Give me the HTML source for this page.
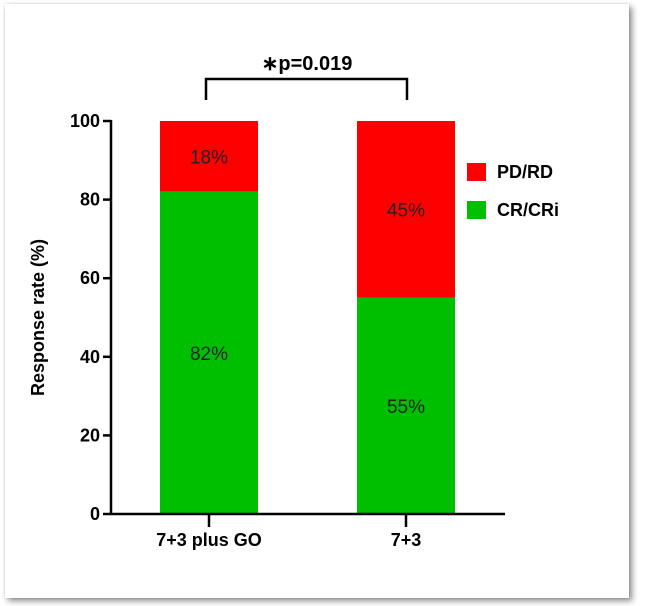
<!DOCTYPE html>
<html><head><style>
body{margin:0;background:#fff;width:647px;height:606px;overflow:hidden;font-family:"Liberation Sans",Arial,sans-serif}
#card{position:absolute;left:5px;top:4px;width:624px;height:594px;background:#fff;box-shadow:3px 3px 6px rgba(0,0,0,0.45),0 0 2px rgba(0,0,0,0.15)}
svg{position:absolute;left:0;top:0}
</style></head><body>
<div id="card"></div>
<svg id="chart" width="647" height="606"></svg>
<script>
const categories=["7+3 plus GO","7+3"];
const crValues=[82,55];
const pdValues=[18,45];
const yTicks=[0,20,40,60,80,100];
const svg=document.getElementById('chart');
const NS='http://www.w3.org/2000/svg';
function mk(tag,attrs,name,text){const e=document.createElementNS(NS,tag);for(const k in attrs)e.setAttribute(k,attrs[k]);


if(text!==undefined)e.textContent=text;svg.appendChild(e);return e;}
const y0=514,y100=121,xL=111,xR=505;
const yS=v=>y0-(y0-y100)*v/100;
const centers=[209,406],bw=98;
const xS=i=>centers[i];
categories.forEach((c,i)=>{
 const x=xS(i)-bw/2;
 mk('rect',{x:x,y:yS(crValues[i]),width:bw,height:y0-yS(crValues[i]),fill:'#00bf00'},'bar-cr-'+i);
 mk('rect',{x:x,y:yS(crValues[i]+pdValues[i]),width:bw,height:yS(crValues[i])-yS(crValues[i]+pdValues[i]),fill:'#ff0000'},'bar-pd-'+i);
 mk('text',{x:xS(i),y:(yS(crValues[i])+y0)/2+7,'text-anchor':'middle','font-size':'19',fill:'#222'},'label-cr-'+i,crValues[i]+'%');
 mk('text',{x:xS(i),y:(yS(crValues[i])+yS(crValues[i]+pdValues[i]))/2+7,'text-anchor':'middle','font-size':'19',fill:'#222'},'label-pd-'+i,pdValues[i]+'%');
 mk('line',{x1:xS(i),x2:xS(i),y1:y0,y2:y0+13,stroke:'#000','stroke-width':2.5},'x-tick');
 mk('text',{x:xS(i),y:y0+32,'text-anchor':'middle','font-size':'18','font-weight':'bold'},'x-tick-label',c);
});
mk('line',{x1:xL,x2:xL,y1:y100-1,y2:y0+1,stroke:'#000','stroke-width':2.5},'y-axis');
mk('line',{x1:xL,x2:xR,y1:y0,y2:y0,stroke:'#000','stroke-width':2.5},'x-axis');
yTicks.forEach(t=>{
 mk('line',{x1:xL-8,x2:xL,y1:yS(t),y2:yS(t),stroke:'#000','stroke-width':2.5},'y-tick');
 mk('text',{x:xL-11,y:yS(t)+6,'text-anchor':'end','font-size':'18','font-weight':'bold'},'y-tick-label',t);
});
mk('text',{x:44,y:(y0+y100)/2,'text-anchor':'middle','font-size':'18','font-weight':'bold',transform:'rotate(-90 44 '+((y0+y100)/2)+')'},'y-axis-title','Response rate (%)');
mk('path',{d:'M206 100 V79 H407 V100',fill:'none',stroke:'#000','stroke-width':2.5},'significance-bracket');
mk('text',{x:307,y:70,'text-anchor':'middle','font-size':'20','font-weight':'bold'},'p-value-label','∗p=0.019');
mk('rect',{x:467,y:163,width:19,height:18,fill:'#ff0000'},'legend-swatch-pd');
mk('text',{x:497,y:178,'font-size':'18','font-weight':'bold'},'legend-label-pd','PD/RD');
mk('rect',{x:467,y:201,width:19,height:18,fill:'#00bf00'},'legend-swatch-cr');
mk('text',{x:497,y:216,'font-size':'18','font-weight':'bold'},'legend-label-cr','CR/CRi');
</script>
</body></html>
